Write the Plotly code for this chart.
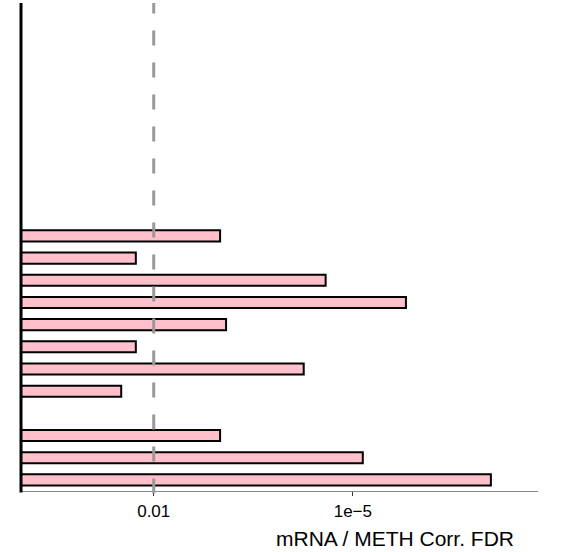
import plotly.graph_objects as go

# slot index from bottom (0 = bottom) and -log10(FDR) values
slots = [0, 1, 2, 4, 5, 6, 7, 8, 9, 10, 11]
neglog_fdr = [7.08, 5.15, 3.00, 1.51, 4.26, 1.73, 3.09, 5.80, 4.59, 1.73, 3.00]
n_slots = 22
tick_vals = [2, 5]
tick_text = ["0.01", "1e\u22125"]
threshold = 2  # FDR = 0.01
x_title = "mRNA / METH Corr. FDR"

fig = go.Figure()
fig.add_trace(go.Bar(
    x=neglog_fdr, y=slots, orientation="h", width=0.5,
    marker=dict(color="#FFC0CB", line=dict(color="black", width=2)),
    showlegend=False,
))

fig.add_shape(type="line", xref="x", yref="paper", x0=threshold, x1=threshold,
              y0=-0.005, y1=1, layer="above",
              line=dict(color="#999999", width=3, dash="15px,17px"))
fig.add_shape(type="line", xref="paper", yref="paper", x0=0, x1=0,
              y0=-0.003, y1=1, layer="above",
              line=dict(color="black", width=3))

fig.update_layout(
    width=563, height=552,
    margin=dict(l=21, r=25, t=3, b=61),
    plot_bgcolor="white", paper_bgcolor="white",
    bargap=0.5,
    font=dict(family="Liberation Sans, Arial, sans-serif", color="black"),
    xaxis=dict(range=[0, 7.79], tickvals=tick_vals, ticktext=tick_text,
               showgrid=False, zeroline=False, showline=True,
               linecolor="#888888", linewidth=1.3,
               ticks="outside", ticklen=4, tickcolor="#333333", tickwidth=1,
               tickfont=dict(size=17)),
    yaxis=dict(range=[-0.5, n_slots - 0.5], showticklabels=False, ticks="",
               showgrid=False, zeroline=False, showline=False),
    annotations=[dict(text=x_title, xref="paper", yref="paper", x=0.723, y=0,
                      yshift=-47, xanchor="center", yanchor="middle",
                      showarrow=False, font=dict(size=21))],
)

fig.write_html("out.html", config={"displayModeBar": False},
               post_script="document.body.style.margin='0';")
